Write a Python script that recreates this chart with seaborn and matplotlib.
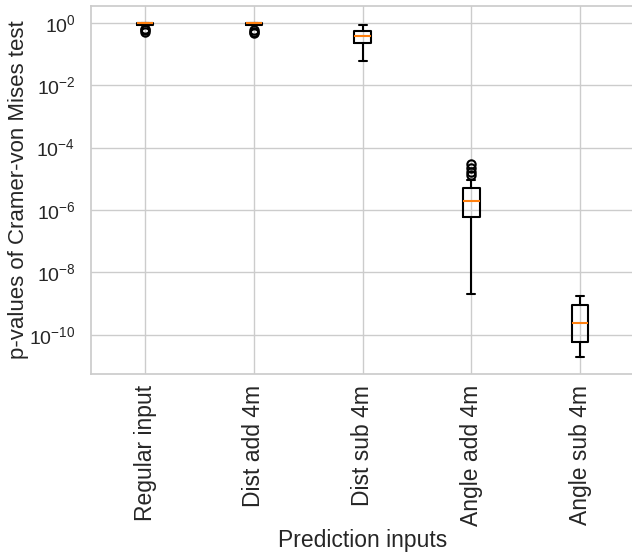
import numpy as np
import matplotlib
matplotlib.use("Agg")
import matplotlib.pyplot as plt
import seaborn as sns

# p-values (sorted samples per input type)
labels = ["Regular input", "Dist add 4m", "Dist sub 4m", "Angle add 4m", "Angle sub 4m"]

regular_input = [0.52, 0.58, 0.63, 0.86, 0.93, 0.95, 0.96, 0.97, 0.98, 0.99, 0.995, 0.998, 1.0]
dist_add_4m = [0.47, 0.52, 0.60, 0.85, 0.92, 0.94, 0.955, 0.965, 0.975, 0.985, 0.993, 0.997, 1.0]
dist_sub_4m = [0.061, 0.15, 0.23, 0.31, 0.38, 0.46, 0.55, 0.70, 0.86]
angle_add_4m = [0.002e-6, 0.05e-6, 0.15e-6, 0.3e-6, 0.45e-6, 0.6e-6, 0.8e-6, 1.1e-6,
                1.4e-6, 1.7e-6, 1.9e-6, 2.3e-6, 2.9e-6, 3.6e-6, 4.3e-6, 5.0e-6,
                9.5e-6, 13e-6, 17e-6, 22e-6, 30e-6]
angle_sub_4m = [0.19e-10, 0.4e-10, 0.6e-10, 1.5e-10, 2.35e-10, 5e-10, 8.9e-10, 13e-10, 18e-10]

sns.set_theme(style="whitegrid")
plt.rcParams["font.family"] = ["Liberation Sans", "DejaVu Sans"]

fig = plt.figure(figsize=(6.32, 5.55), dpi=100)
ax = fig.add_axes([0.1435, 0.326, 0.8605, 0.663])

data = [regular_input, dist_add_4m, dist_sub_4m, angle_add_4m, angle_sub_4m]
lw = 1.5
ax.boxplot(data, widths=0.15,
           boxprops=dict(color="black", linewidth=lw),
           whiskerprops=dict(color="black", linewidth=lw),
           capprops=dict(color="black", linewidth=lw),
           medianprops=dict(color="#ff7f0e", linewidth=lw),
           flierprops=dict(marker="o", markersize=6, markerfacecolor="none",
                           markeredgecolor="black", markeredgewidth=lw))
ax.set_yscale("log")
ax.set_xticks(range(1, len(labels) + 1))
ax.set_xticklabels(labels, rotation=90, fontsize=16.5)
ax.tick_params(axis="x", pad=2)
ax.tick_params(axis="y", labelsize=14, pad=5)
ax.set_xlabel("Prediction inputs", fontsize=16.5, labelpad=2)
ax.set_ylabel("p-values of Cramer-von Mises test", fontsize=16)
ax.yaxis.set_label_coords(-0.113, 0.5)

fig.savefig("out.png", dpi=100)
